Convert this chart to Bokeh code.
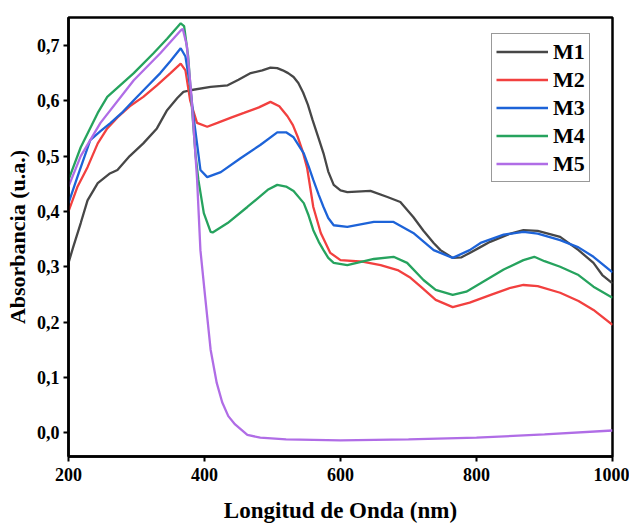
from bokeh.plotting import figure
from bokeh.models import FixedTicker, CustomJSTickFormatter, Legend, LegendItem, Range1d
from bokeh.embed import file_html
from bokeh.resources import INLINE

# ---- data ----
x_ticks = [200, 400, 600, 800, 1000]
y_ticks = [0.0, 0.1, 0.2, 0.3, 0.4, 0.5, 0.6, 0.7]

m1_x = [200, 207, 218, 228, 243, 260, 272, 290, 310, 330, 345, 360, 369, 379, 409, 434, 450, 468, 485, 497, 507, 515, 523, 531, 538, 545, 552, 559, 567, 575, 582, 590, 600, 610, 644, 669, 688, 707, 722, 737, 747, 765, 778, 790, 805, 820, 850, 869, 890, 923, 950, 972, 985, 1000]
m1_y = [0.307, 0.336, 0.379, 0.420, 0.451, 0.468, 0.475, 0.500, 0.523, 0.550, 0.583, 0.605, 0.616, 0.619, 0.625, 0.628, 0.638, 0.650, 0.655, 0.660, 0.659, 0.655, 0.650, 0.643, 0.632, 0.615, 0.593, 0.565, 0.535, 0.505, 0.472, 0.448, 0.438, 0.435, 0.437, 0.426, 0.417, 0.390, 0.365, 0.343, 0.330, 0.316, 0.317, 0.325, 0.335, 0.345, 0.360, 0.366, 0.365, 0.354, 0.330, 0.307, 0.285, 0.270]

m2_x = [200, 213, 228, 243, 257, 272, 290, 310, 330, 350, 365, 372, 379, 389, 404, 419, 440, 458, 480, 497, 510, 522, 530, 537, 544, 551, 560, 571, 585, 600, 634, 659, 684, 703, 718, 740, 765, 790, 821, 850, 869, 890, 923, 950, 972, 1000]
m2_y = [0.400, 0.444, 0.480, 0.523, 0.550, 0.570, 0.590, 0.607, 0.628, 0.650, 0.667, 0.655, 0.600, 0.560, 0.553, 0.560, 0.570, 0.578, 0.588, 0.598, 0.590, 0.572, 0.556, 0.535, 0.510, 0.478, 0.408, 0.361, 0.325, 0.312, 0.309, 0.303, 0.294, 0.280, 0.264, 0.240, 0.227, 0.235, 0.249, 0.262, 0.267, 0.265, 0.253, 0.238, 0.222, 0.195]

m3_x = [200, 213, 232, 247, 262, 280, 296, 315, 335, 350, 365, 372, 379, 384, 389, 394, 404, 424, 453, 482, 507, 520, 531, 546, 553, 560, 568, 575, 582, 590, 610, 649, 678, 707, 737, 765, 790, 806, 840, 869, 890, 923, 950, 972, 1000]
m3_y = [0.415, 0.462, 0.529, 0.545, 0.560, 0.580, 0.601, 0.625, 0.650, 0.672, 0.695, 0.680, 0.625, 0.570, 0.523, 0.475, 0.462, 0.471, 0.496, 0.520, 0.543, 0.543, 0.534, 0.505, 0.482, 0.457, 0.430, 0.408, 0.388, 0.375, 0.372, 0.381, 0.381, 0.361, 0.330, 0.316, 0.330, 0.343, 0.358, 0.363, 0.360, 0.348, 0.335, 0.318, 0.290]

m4_x = [200, 218, 243, 257, 296, 325, 345, 365, 370, 376, 382, 387, 391, 399, 409, 412, 434, 463, 493, 507, 520, 531, 546, 553, 560, 568, 575, 582, 590, 610, 649, 678, 698, 722, 740, 765, 785, 806, 840, 869, 885, 900, 923, 950, 972, 1000]
m4_y = [0.457, 0.516, 0.578, 0.607, 0.650, 0.686, 0.712, 0.740, 0.735, 0.680, 0.580, 0.500, 0.457, 0.397, 0.363, 0.362, 0.379, 0.408, 0.439, 0.448, 0.445, 0.437, 0.415, 0.393, 0.366, 0.345, 0.330, 0.316, 0.307, 0.303, 0.314, 0.318, 0.307, 0.276, 0.258, 0.249, 0.255, 0.270, 0.295, 0.312, 0.318, 0.310, 0.300, 0.285, 0.264, 0.244]

m5_x = [200, 218, 247, 296, 335, 365, 368, 374, 380, 384, 389, 394, 401, 409, 418, 426, 435, 445, 463, 482, 520, 600, 700, 800, 900, 1000]
m5_y = [0.445, 0.500, 0.560, 0.637, 0.686, 0.727, 0.730, 0.700, 0.620, 0.550, 0.460, 0.330, 0.245, 0.150, 0.090, 0.055, 0.030, 0.015, -0.004, -0.009, -0.012, -0.014, -0.012, -0.009, -0.003, 0.004]

names = ["M1", "M2", "M3", "M4", "M5"]
colors = ["#474747", "#f2403f", "#1d63d8", "#26a35e", "#b06de6"]
series = [(m1_x, m1_y), (m2_x, m2_y), (m3_x, m3_y), (m4_x, m4_y), (m5_x, m5_y)]

FONT = "Liberation Serif"

p = figure(width=629, height=525, output_backend="svg", toolbar_location=None,
           x_range=Range1d(200, 1000), y_range=Range1d(-0.043, 0.7505),
           min_border_left=68, min_border_right=17, min_border_top=17, min_border_bottom=69)

p.background_fill_color = "white"
p.border_fill_color = "white"
p.grid.grid_line_color = None
p.outline_line_color = "black"
p.outline_line_width = 2.5
p.outline_line_alpha = 1.0

renderers = []
for (xs, ys), c in zip(series, colors):
    r = p.line(xs, ys, line_color=c, line_width=2.3)
    renderers.append(r)

for ax in (p.xaxis[0], p.yaxis[0]):
    ax.axis_line_width = 2.5
    ax.axis_line_color = "black"
    ax.major_tick_line_width = 2
    ax.major_tick_line_color = "black"
    ax.major_tick_out = 5
    ax.major_tick_in = 0
    ax.minor_tick_line_color = None
    ax.major_label_text_font = FONT
    ax.major_label_text_font_style = "bold"
    ax.major_label_text_font_size = "18px"
    ax.major_label_text_color = "black"
    ax.axis_label_text_font = FONT
    ax.axis_label_text_font_style = "bold"
    ax.axis_label_text_color = "black"

p.xaxis[0].axis_label_text_font_size = "23px"
p.yaxis[0].axis_label_text_font_size = "22px"
p.xaxis[0].ticker = FixedTicker(ticks=x_ticks)
p.yaxis[0].ticker = FixedTicker(ticks=y_ticks)
p.yaxis[0].formatter = CustomJSTickFormatter(code="return tick.toFixed(1).replace('.', ',');")
p.xaxis[0].axis_label = "Longitud de Onda (nm)"
p.yaxis[0].axis_label = "Absorbancia (u.a.)"
p.xaxis[0].major_label_standoff = 6
p.yaxis[0].major_label_standoff = 4
p.xaxis[0].axis_label_standoff = 14
p.yaxis[0].axis_label_standoff = 4

legend = Legend(items=[LegendItem(label=n, renderers=[r]) for n, r in zip(names, renderers)],
                location=(423, 274))
legend.label_text_font = FONT
legend.label_text_font_style = "bold"
legend.label_text_font_size = "22px"
legend.label_text_color = "black"
legend.glyph_width = 52
legend.glyph_height = 27
legend.label_height = 27
legend.label_standoff = 5
legend.spacing = 1
legend.padding = 4
legend.margin = 0
legend.border_line_color = "#333333"
legend.border_line_width = 1
legend.background_fill_alpha = 1.0
p.add_layout(legend)

open("out.html", "w").write(file_html(p, INLINE))
